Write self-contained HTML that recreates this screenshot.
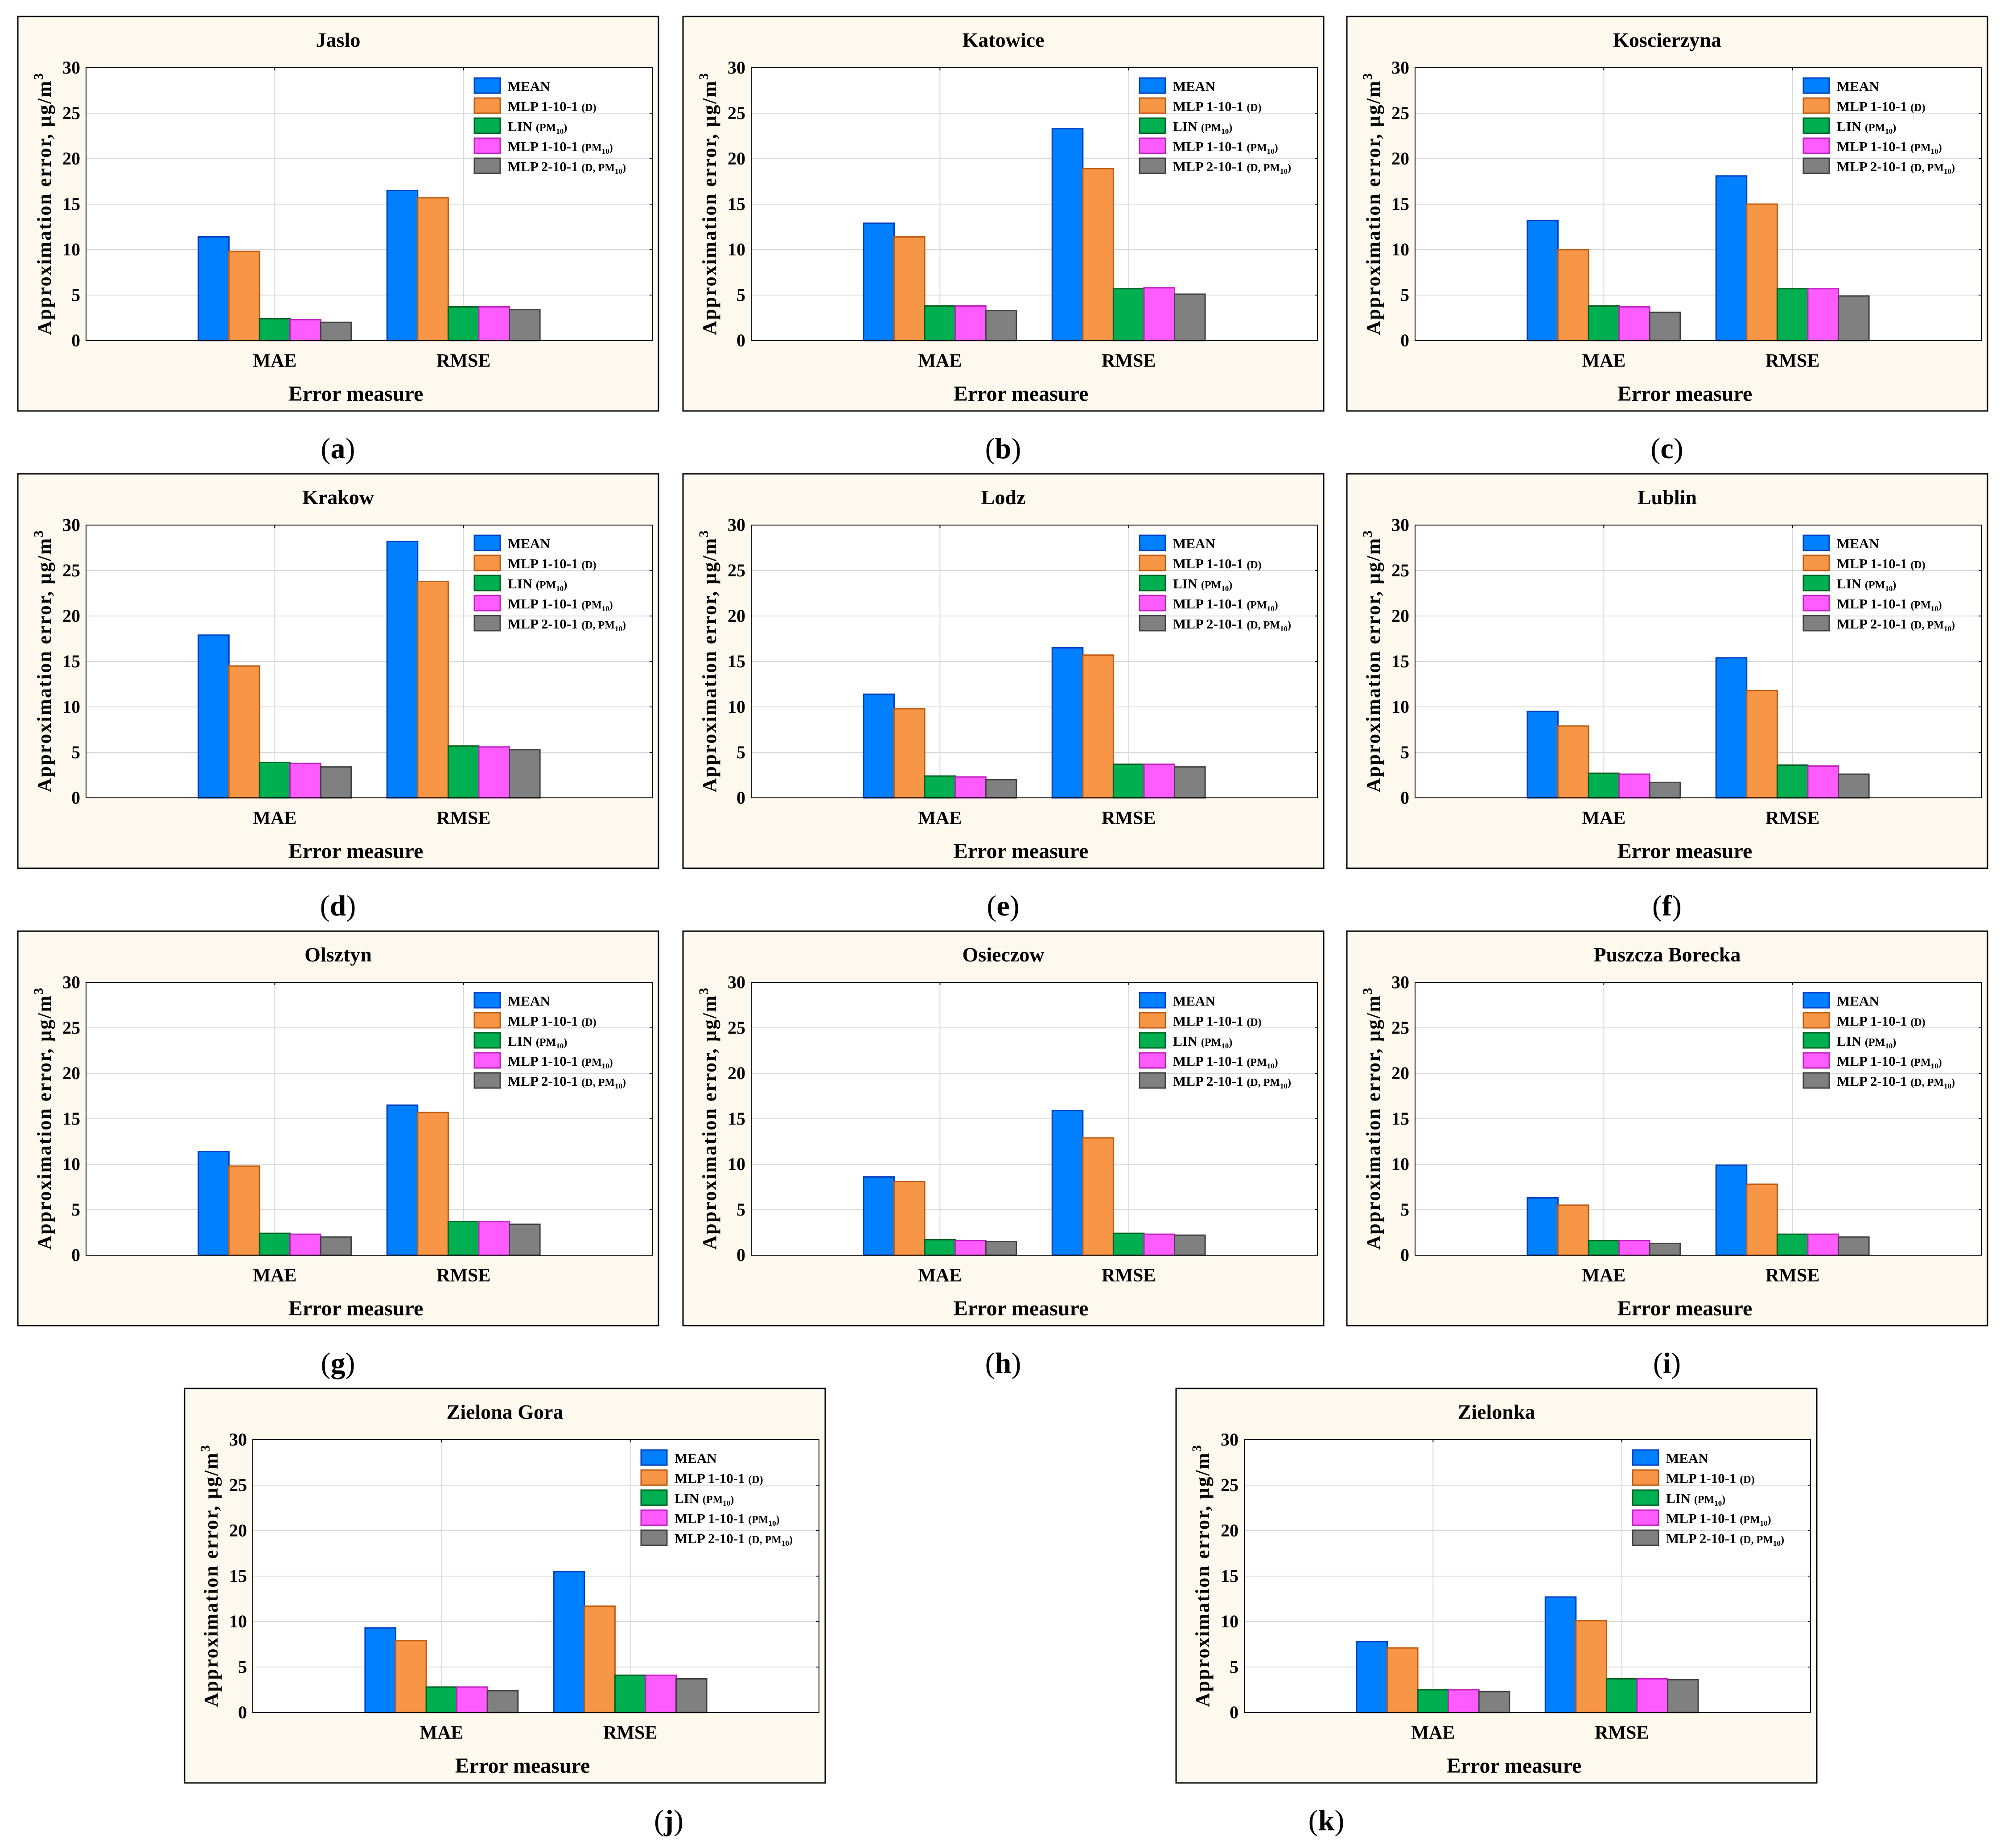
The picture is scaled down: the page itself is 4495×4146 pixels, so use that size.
<!DOCTYPE html>
<html><head><meta charset="utf-8">
<style>
html,body{margin:0;padding:0;background:#fff;}
svg{display:block;font-family:"Liberation Serif",serif;font-weight:bold;}
</style></head>
<body>
<svg id="chart" width="4495" height="4146" viewBox="0 0 4495 4146" xmlns="http://www.w3.org/2000/svg"></svg>
<script>
const panelTitles = ["Jaslo","Katowice","Koscierzyna","Krakow","Lodz","Lublin","Olsztyn","Osieczow","Puszcza Borecka","Zielona Gora","Zielonka"];
const panelLetters = ["a","b","c","d","e","f","g","h","i","j","k"];
const categories = ["MAE","RMSE"];
const seriesNames = ["MEAN","MLP 1-10-1 (D)","LIN (PM10)","MLP 1-10-1 (PM10)","MLP 2-10-1 (D, PM10)"];
const yTicks = [0,5,10,15,20,25,30];
const jasloVals = [[11.4,9.8,2.4,2.3,2.0],[16.5,15.7,3.7,3.7,3.4]];
const katowiceVals = [[12.9,11.4,3.8,3.8,3.3],[23.3,18.9,5.7,5.8,5.1]];
const koscierzynaVals = [[13.2,10.0,3.8,3.7,3.1],[18.1,15.0,5.7,5.7,4.9]];
const krakowVals = [[17.9,14.5,3.9,3.8,3.4],[28.2,23.8,5.7,5.6,5.3]];
const lodzVals = [[11.4,9.8,2.4,2.3,2.0],[16.5,15.7,3.7,3.7,3.4]];
const lublinVals = [[9.5,7.9,2.7,2.6,1.7],[15.4,11.8,3.6,3.5,2.6]];
const olsztynVals = [[11.4,9.8,2.4,2.3,2.0],[16.5,15.7,3.7,3.7,3.4]];
const osieczowVals = [[8.6,8.1,1.7,1.6,1.5],[15.9,12.9,2.4,2.3,2.2]];
const puszczaVals = [[6.3,5.5,1.6,1.6,1.3],[9.9,7.8,2.3,2.3,2.0]];
const zielonaGoraVals = [[9.3,7.9,2.8,2.8,2.4],[15.5,11.7,4.1,4.1,3.7]];
const zielonkaVals = [[7.8,7.1,2.5,2.5,2.3],[12.7,10.1,3.7,3.7,3.6]];
const allVals = [jasloVals,katowiceVals,koscierzynaVals,krakowVals,lodzVals,lublinVals,olsztynVals,osieczowVals,puszczaVals,zielonaGoraVals,zielonkaVals];

const fills = ["#0080ff","#f79646","#00b050","#ff5cff","#808080"];
const strokes = ["#0040c0","#c05a10","#006020","#c020c0","#404040"];
const origins = [[40,37],[1532,37],[3021,37],[40,1063],[1532,1063],[3021,1063],[40,2089],[1532,2089],[3021,2089],[414,3115],[2638,3115]];
const captionX = [718,718,718,718,718,718,718,718,718,1086,337];
const NS = "http://www.w3.org/2000/svg";
const svg = document.getElementById("chart");
function mk(tag, attrs, parent){const e=document.createElementNS(NS,tag);for(const k in attrs)e.setAttribute(k,attrs[k]);parent.appendChild(e);return e;}

const PW=1437, PH=885, L=153, T=115, R=1423, B=727;
const yMax=30;
function yS(v){return B-(v/yMax)*(B-T);}
function xC(ci){return L+(R-L)*(ci+1)/3;}
const barW=(R-L)*0.054;

for(let p=0;p<panelTitles.length;p++){
  const [ox,oy]=origins[p];
  const g=mk("g",{transform:`translate(${ox},${oy})`},svg);
  
  
  const bg=mk("rect",{x:0,y:0,width:PW,height:PH,fill:"#fef9ee",stroke:"#000","stroke-width":3},g);
  
  
  const title=mk("text",{x:PW/2,y:68,"text-anchor":"middle","font-size":46},g);
  title.textContent=panelTitles[p];
  
  
  const pa=mk("rect",{x:L,y:T,width:R-L,height:B-T,fill:"#fff",stroke:"none"},g);
  
  
  yTicks.forEach(t=>{
    if(t>0&&t<yMax){const gl=mk("line",{x1:L,x2:R,y1:yS(t),y2:yS(t),stroke:"#d9d9d9","stroke-width":2},g);
      
      mk("line",{x1:R-6,x2:R,y1:yS(t),y2:yS(t),stroke:"#000","stroke-width":2},g);}
    const tl=mk("text",{x:140,y:yS(t)+13,"text-anchor":"end","font-size":40},g);
    tl.textContent=t;
    
    
  });
  categories.forEach((c,ci)=>{
    const gl=mk("line",{x1:xC(ci),x2:xC(ci),y1:T,y2:B,stroke:"#d9d9d9","stroke-width":2},g);
    
    mk("line",{x1:xC(ci),x2:xC(ci),y1:T,y2:T+6,stroke:"#000","stroke-width":2},g);
    const xl=mk("text",{x:xC(ci),y:786,"text-anchor":"middle","font-size":42},g);
    xl.textContent=c;
    
    
  });
  const vals=allVals[p];
  categories.forEach((c,ci)=>{
    for(let s=0;s<seriesNames.length;s++){
      const v=vals[ci][s];
      const x=xC(ci)-2.5*barW+s*barW;
      const b=mk("rect",{x:x,y:yS(v),width:barW,height:B-yS(v),fill:fills[s],stroke:strokes[s],"stroke-width":3},g);
      
      
    }
  });
  const fr=mk("rect",{x:L,y:T,width:R-L,height:B-T,fill:"none",stroke:"#000","stroke-width":2},g);
  
  
  const leg=mk("g",{},g);
  
  
  seriesNames.forEach((n,s)=>{
    const y=138+s*45;
    const sw=mk("rect",{x:1024,y:y,width:58,height:34,fill:fills[s],stroke:strokes[s],"stroke-width":3},leg);
    
    
    const t=mk("text",{x:1099,y:y+29,"font-size":31},leg);
    
    
    const m=n.match(/^(.*?)\s*\((.*)\)$/);
    let main=m?m[1]:n, par=m?m[2]:"";
    const t1=mk("tspan",{},t); t1.textContent=main+" ";
    if(par){
      const small=mk("tspan",{"font-size":24},t);
      const parts=par.split("PM10");
      let txt="("+parts[0];
      if(parts.length>1){
        small.textContent=txt+"PM";
        const sub=mk("tspan",{"font-size":17,dy:6},t);sub.textContent="10";
        const cl=mk("tspan",{"font-size":24,dy:-6},t);cl.textContent=")";
      } else { small.textContent=txt+")"; }
    }
  });
  const yt=mk("text",{transform:`translate(74,${(T+B)/2}) rotate(-90)`,"text-anchor":"middle","font-size":44},g);
  
  
  const y1=mk("tspan",{textLength:570,lengthAdjust:"spacing"},yt); y1.textContent="Approximation error, μg/m";
  const y2=mk("tspan",{"font-size":30,dy:-18},yt); y2.textContent="3";
  const xt=mk("text",{x:(L+R)/2-30,y:862,"text-anchor":"middle","font-size":48},g);
  xt.textContent="Error measure";
  
  
  const cap=mk("text",{x:ox+captionX[p],y:oy+PH+106,"text-anchor":"middle","font-size":66,"font-weight":"normal"},svg);
  cap.textContent="(";
  const cb=mk("tspan",{"font-weight":"bold"},cap); cb.textContent=panelLetters[p];
  const ce=mk("tspan",{},cap); ce.textContent=")";
  
  
}
</script>
</body></html>
